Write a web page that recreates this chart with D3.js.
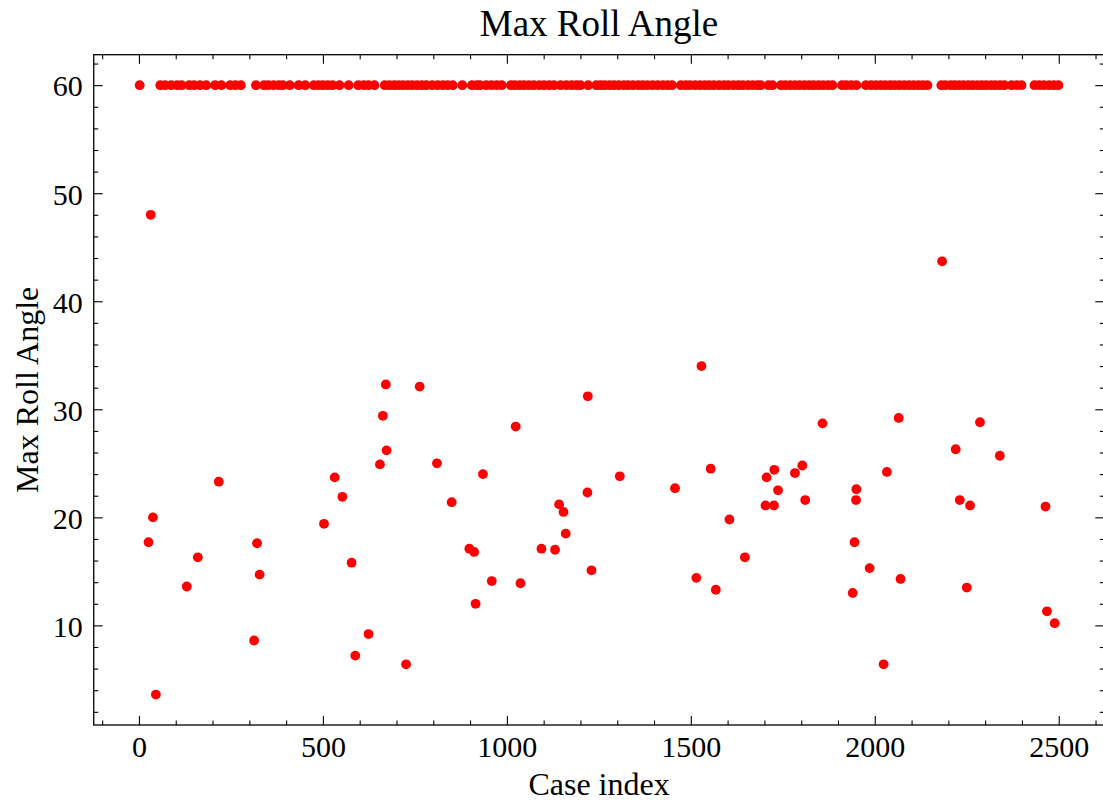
<!DOCTYPE html>
<html>
<head>
<meta charset="utf-8">
<script src="https://cdn.jsdelivr.net/npm/d3@7"></script>
<style>
  html, body { margin: 0; padding: 0; background: #fff; }
  svg { display: block; }
  text { font-family: "Liberation Serif", "DejaVu Serif", serif; fill: #000; }
</style>
</head>
<body>
<div id="chart"></div>
<script>
// Cases that reached the 60 degree roll limit
const cappedCases = [
  2,
  58, 71, 88, 104, 116, 137, 150, 166, 183, 207, 224, 248, 262, 277,
  318, 340, 352, 366, 380, 391, 410, 434, 452, 475, 488, 500, 513, 526, 545,
  570, 596, 611, 624, 640, 668, 681, 694, 706, 718, 731, 743, 756, 769, 781,
  797, 812, 826, 839, 853, 879, 905, 918, 927, 944, 958, 972, 986, 1011, 1022,
  1035, 1047, 1060, 1073, 1088, 1101, 1115, 1128, 1146, 1162, 1176, 1189, 1200,
  1221, 1243, 1255, 1266, 1279, 1291, 1304, 1318, 1330, 1343, 1357, 1369, 1382,
  1396, 1410, 1424, 1437, 1449, 1473, 1486, 1498, 1512, 1525, 1538, 1550, 1563,
  1577, 1590, 1602, 1616, 1629, 1641, 1655, 1668, 1681, 1690, 1711, 1722, 1745,
  1757, 1770, 1783, 1796, 1809, 1822, 1834, 1847, 1860, 1873, 1885, 1911, 1923,
  1936, 1950, 1976, 1990, 2003, 2016, 2029, 2042, 2054, 2067, 2080, 2093, 2106,
  2119, 2131, 2143,
  2181, 2192, 2206, 2217, 2229, 2241, 2254, 2266, 2279, 2291, 2303, 2316, 2328,
  2340, 2352, 2372, 2386, 2399,
  2434, 2447, 2460, 2474, 2487, 2499
];
const cappedAngle = 60;

// Cases that stayed below the limit: index and maximum roll angle
const belowIndex = [
  26, 32, 38, 46, 130, 160, 217, 313, 321, 328,
  503, 532, 553, 578, 588, 624, 655, 663, 671, 673,
  726, 763, 810, 850, 898, 911, 915, 935, 959, 1024,
  1037, 1094, 1131, 1142, 1154, 1160, 1219, 1220, 1230, 1307,
  1457, 1515, 1529, 1554, 1568, 1605, 1647, 1703, 1706, 1726,
  1727, 1737, 1783, 1803, 1811, 1858, 1940, 1945, 1949, 1950,
  1986, 2024, 2033, 2065, 2070, 2183, 2220, 2231, 2250, 2259,
  2286, 2340, 2464, 2468, 2489
];
const belowAngle = [
  17.7, 48.0, 20.0, 3.6, 13.6, 16.3, 23.3, 8.6, 17.6, 14.7,
  19.4, 23.7, 21.9, 15.8, 7.2, 9.2, 24.9, 29.4, 32.3, 26.2,
  6.4, 32.1, 25.0, 21.4, 17.1, 16.8, 12.0, 24.0, 14.1, 28.4,
  13.9, 17.1, 17.0, 21.2, 20.5, 18.5, 22.3, 31.2, 15.1, 23.8,
  22.7, 14.4, 34.0, 24.5, 13.3, 19.8, 16.3, 21.1, 23.7, 21.1,
  24.4, 22.5, 24.1, 24.8, 21.6, 28.7, 13.0, 17.7, 21.6, 22.6,
  15.3, 6.4, 24.2, 29.2, 14.3, 43.7, 26.3, 21.6, 13.5, 21.1,
  28.8, 25.7, 21.0, 11.3, 10.2
];

const xMajorTicks = [0, 500, 1000, 1500, 2000, 2500];
const yMajorTicks = [10, 20, 30, 40, 50, 60];

const points = cappedCases.map(i => ({ index: i, angle: cappedAngle }))
  .concat(belowIndex.map((i, k) => ({ index: i, angle: belowAngle[k] })));

const W = 1103, H = 802;
const plot = { left: 93.75, right: 1104.3, top: 54.7, bottom: 725 };

const svg = d3.select("#chart").append("svg")
  .attr("width", W).attr("height", H);
svg.append("rect").attr("width", W).attr("height", H).attr("fill", "#fff");

// Axis limits padded by 5% of the data span on each side
const xExt = d3.extent(points, d => d.index);
const yExt = d3.extent(points, d => d.angle);
const xPad = (xExt[1] - xExt[0]) * 0.05, yPad = (yExt[1] - yExt[0]) * 0.05;

const x = d3.scaleLinear().domain([xExt[0] - xPad, xExt[1] + xPad])
  .range([plot.left, plot.right]);
const y = d3.scaleLinear().domain([yExt[0] - yPad, yExt[1] + yPad])
  .range([plot.bottom, plot.top]);

const xMinor = d3.range(-100, 2700, 100).filter(v => v % 500 !== 0 && v > x.domain()[0] && v < x.domain()[1]);
const yMinor = d3.range(2, 63, 2).filter(v => v % 10 !== 0 && v > y.domain()[0] && v < y.domain()[1]);

// Markers
svg.append("g")
  .selectAll("circle")
  .data(points)
  .join("circle")
  .attr("cx", d => x(d.index))
  .attr("cy", d => y(d.angle))
  .attr("r", 4.9)
  .attr("fill", "#ff0000");

// Inward-pointing ticks on all four sides
function styleAxis(g) {
  g.select(".domain").remove();
  g.selectAll(".tick line").attr("stroke", "#000").attr("stroke-width", 1.1);
}

const fontTick = 30;

const gx = svg.append("g").attr("transform", `translate(0,${plot.bottom})`)
  .call(d3.axisBottom(x).tickValues(xMajorTicks).tickSize(-9).tickSizeOuter(0).tickPadding(11).tickFormat(d3.format("d")));
styleAxis(gx);
gx.selectAll("text").style("font-size", fontTick + "px").style("font-family", "Liberation Serif, serif");

const gxm = svg.append("g").attr("transform", `translate(0,${plot.bottom})`)
  .call(d3.axisBottom(x).tickValues(xMinor).tickSize(-4.5).tickSizeOuter(0).tickFormat(""));
styleAxis(gxm);

const gxt = svg.append("g").attr("transform", `translate(0,${plot.top})`)
  .call(d3.axisTop(x).tickValues(xMajorTicks).tickSize(-9).tickSizeOuter(0).tickFormat(""));
styleAxis(gxt);
const gxtm = svg.append("g").attr("transform", `translate(0,${plot.top})`)
  .call(d3.axisTop(x).tickValues(xMinor).tickSize(-4.5).tickSizeOuter(0).tickFormat(""));
styleAxis(gxtm);

const gy = svg.append("g").attr("transform", `translate(${plot.left},0)`)
  .call(d3.axisLeft(y).tickValues(yMajorTicks).tickSize(-9).tickSizeOuter(0).tickPadding(11).tickFormat(d3.format("d")));
styleAxis(gy);
gy.selectAll("text").style("font-size", fontTick + "px").style("font-family", "Liberation Serif, serif").attr("dy", "0.36em");

const gym = svg.append("g").attr("transform", `translate(${plot.left},0)`)
  .call(d3.axisLeft(y).tickValues(yMinor).tickSize(-4.5).tickSizeOuter(0).tickFormat(""));
styleAxis(gym);

const gyr = svg.append("g").attr("transform", `translate(${plot.right},0)`)
  .call(d3.axisRight(y).tickValues(yMajorTicks).tickSize(-9).tickSizeOuter(0).tickFormat(""));
styleAxis(gyr);
const gyrm = svg.append("g").attr("transform", `translate(${plot.right},0)`)
  .call(d3.axisRight(y).tickValues(yMinor).tickSize(-4.5).tickSizeOuter(0).tickFormat(""));
styleAxis(gyrm);

// Frame
svg.append("rect")
  .attr("x", plot.left).attr("y", plot.top)
  .attr("width", plot.right - plot.left).attr("height", plot.bottom - plot.top)
  .attr("fill", "none").attr("stroke", "#000").attr("stroke-width", 1.3);

// Title and axis labels
const cx = (plot.left + plot.right) / 2;
svg.append("text").attr("x", cx).attr("y", 35.5)
  .attr("text-anchor", "middle").style("font-size", "37px")
  .text("Max Roll Angle");

svg.append("text").attr("x", cx).attr("y", 795)
  .attr("text-anchor", "middle").style("font-size", "32px")
  .text("Case index");

svg.append("text")
  .attr("transform", `translate(38,${(plot.top + plot.bottom) / 2}) rotate(-90)`)
  .attr("text-anchor", "middle").style("font-size", "32px")
  .text("Max Roll Angle");
</script>
</body>
</html>
